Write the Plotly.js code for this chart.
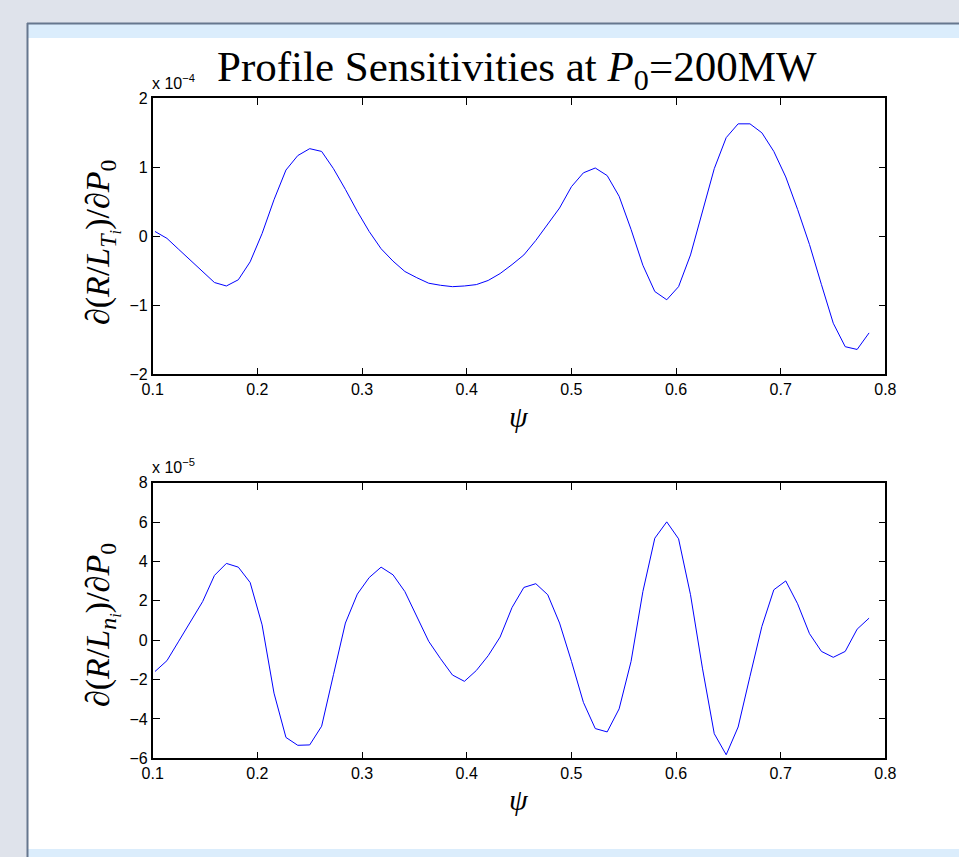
<!DOCTYPE html>
<html>
<head>
<meta charset="utf-8">
<script src="https://cdn.plot.ly/plotly-3.0.1.min.js"></script>
<style>
  html, body { margin: 0; padding: 0; background: #ffffff; }
  #chart { width: 959px; height: 857px; }
</style>
</head>
<body>
<div id="chart"></div>
<script>
// Normalised flux coordinate grid (61 points)
const psi = [
  0.1022, 0.1136, 0.1249, 0.1363, 0.1477, 0.1590, 0.1704, 0.1818, 0.1931, 0.2045,
  0.2159, 0.2273, 0.2386, 0.2500, 0.2614, 0.2727, 0.2841, 0.2955, 0.3068, 0.3182,
  0.3296, 0.3409, 0.3523, 0.3637, 0.3750, 0.3864, 0.3978, 0.4092, 0.4205, 0.4319,
  0.4433, 0.4546, 0.4660, 0.4774, 0.4887, 0.5001, 0.5115, 0.5228, 0.5342, 0.5456,
  0.5570, 0.5683, 0.5797, 0.5911, 0.6024, 0.6138, 0.6252, 0.6365, 0.6479, 0.6593,
  0.6706, 0.6820, 0.6934, 0.7048, 0.7161, 0.7275, 0.7389, 0.7502, 0.7616, 0.7730,
  0.7844
];

// d(R/L_Ti)/dP0, in units of 1e-4
const dTi = [
   0.07, -0.03, -0.19, -0.35, -0.52, -0.67, -0.72, -0.63, -0.37,  0.04,
   0.53,  0.96,  1.17,  1.27,  1.23,  0.98,  0.68,  0.36,  0.07, -0.18,
  -0.36, -0.51, -0.60, -0.68, -0.71, -0.73, -0.72, -0.70, -0.64, -0.54,
  -0.41, -0.27, -0.06,  0.17,  0.41,  0.72,  0.92,  0.99,  0.88,  0.58,
   0.10, -0.42, -0.80, -0.92, -0.73, -0.27,  0.34,  0.98,  1.43,  1.63,
   1.63,  1.50,  1.23,  0.86,  0.39, -0.12, -0.70, -1.26, -1.60, -1.64,
  -1.40
];

// d(R/L_ni)/dP0, in units of 1e-5
const dNi = [
  -1.59, -1.04, -0.05,  0.97,  1.96,  3.29,  3.90,  3.71,  2.93,  0.78,
  -2.69, -4.94, -5.34, -5.32, -4.37, -1.75,  0.87,  2.34,  3.18,  3.71,
   3.32,  2.47,  1.21, -0.06, -0.94, -1.77, -2.09, -1.54, -0.79,  0.16,
   1.66,  2.68,  2.87,  2.31,  0.87, -1.08, -3.16, -4.49, -4.66, -3.49,
  -1.08,  2.47,  5.18,  6.01,  5.15,  2.31, -1.42, -4.75, -5.82, -4.41,
  -1.84,  0.70,  2.56,  3.01,  1.85,  0.33, -0.57, -0.87, -0.57,  0.56,
   1.12
];

const xTicks = [0.1, 0.2, 0.3, 0.4, 0.5, 0.6, 0.7, 0.8];
const yTicksTop = [-2, -1, 0, 1, 2];
const yTicksBot = [-6, -4, -2, 0, 2, 4, 6, 8];

const W = 959, H = 857;
const px = x => x / W;
const py = y => 1 - y / H;

const sans = 'Liberation Sans, Arial, sans-serif';
const serif = 'Liberation Serif, Times New Roman, serif';

function xAxis(anchor) {
  return {
    domain: [px(152.7), px(885.4)],
    range: [0.1, 0.8],
    tickvals: xTicks,
    ticktext: xTicks.map(v => v.toFixed(1)),
    ticks: 'inside', ticklen: 7, tickwidth: 1, tickcolor: '#000',
    showline: true, linecolor: '#000', linewidth: 1.6, mirror: 'ticks',
    showgrid: false, zeroline: false,
    tickfont: {family: sans, size: 16, color: '#000'},
    anchor: anchor, fixedrange: true
  };
}
function yAxis(anchor, dom, rng, vals) {
  return {
    domain: dom,
    range: rng,
    tickvals: vals,
    ticktext: vals.map(v => v < 0 ? '\u2212' + Math.abs(v) : String(v)),
    ticks: 'inside', ticklen: 7, tickwidth: 1, tickcolor: '#000',
    showline: true, linecolor: '#000', linewidth: 1.6, mirror: 'ticks',
    showgrid: false, zeroline: false,
    tickfont: {family: sans, size: 16, color: '#000'},
    anchor: anchor, fixedrange: true
  };
}

const traces = [
  {x: psi, y: dTi, xaxis: 'x', yaxis: 'y', type: 'scatter', mode: 'lines',
   line: {color: '#0000ff', width: 1}, hoverinfo: 'skip'},
  {x: psi, y: dNi, xaxis: 'x2', yaxis: 'y2', type: 'scatter', mode: 'lines',
   line: {color: '#0000ff', width: 1}, hoverinfo: 'skip'}
];

// window frame around the figure
const frameGray = '#dfe3eb', frameLine = '#66778e', band = '#dbedfc';
const shapes = [
  {type: 'rect', xref: 'paper', yref: 'paper', layer: 'below',
   x0: 0, x1: 1, y0: py(23), y1: 1, fillcolor: frameGray, line: {width: 0}},
  {type: 'rect', xref: 'paper', yref: 'paper', layer: 'below',
   x0: 0, x1: px(27), y0: 0, y1: 1, fillcolor: frameGray, line: {width: 0}},
  {type: 'rect', xref: 'paper', yref: 'paper', layer: 'below',
   x0: px(28), x1: 1, y0: py(38), y1: py(24), fillcolor: band, line: {width: 0}},
  {type: 'rect', xref: 'paper', yref: 'paper', layer: 'below',
   x0: px(28), x1: 1, y0: 0, y1: py(849), fillcolor: band, line: {width: 0}},
  {type: 'line', xref: 'paper', yref: 'paper', layer: 'below',
   x0: px(27), x1: 1, y0: py(23.5), y1: py(23.5), line: {color: frameLine, width: 2}},
  {type: 'line', xref: 'paper', yref: 'paper', layer: 'below',
   x0: px(27.5), x1: px(27.5), y0: 0, y1: py(23), line: {color: frameLine, width: 2}}
];

const annotations = [
  {text: 'Profile Sensitivities at <i>P</i><sub>0</sub>=200MW',
   xref: 'paper', yref: 'paper', x: px(517), y: py(70),
   xanchor: 'center', yanchor: 'middle', showarrow: false,
   font: {family: serif, size: 43, color: '#000'}},
  {text: 'x 10<sup>\u22124</sup>', xref: 'paper', yref: 'paper',
   x: px(150), y: py(94), xanchor: 'left', yanchor: 'bottom', showarrow: false,
   font: {family: sans, size: 16, color: '#000'}},
  {text: 'x 10<sup>\u22125</sup>', xref: 'paper', yref: 'paper',
   x: px(150), y: py(478), xanchor: 'left', yanchor: 'bottom', showarrow: false,
   font: {family: sans, size: 16, color: '#000'}},
  {text: '\u2202(<i>R</i>/<i>L</i><sub><i>T</i><sub><i>i</i></sub></sub>)/\u2202<i>P</i><sub>0</sub>',
   xref: 'paper', yref: 'paper', x: px(102), y: py(243), textangle: -90,
   xanchor: 'center', yanchor: 'middle', showarrow: false,
   font: {family: serif, size: 34, color: '#000'}},
  {text: '\u2202(<i>R</i>/<i>L</i><sub><i>n</i><sub><i>i</i></sub></sub>)/\u2202<i>P</i><sub>0</sub>',
   xref: 'paper', yref: 'paper', x: px(102), y: py(625), textangle: -90,
   xanchor: 'center', yanchor: 'middle', showarrow: false,
   font: {family: serif, size: 34, color: '#000'}},
  {text: '<i>\u03c8</i>', xref: 'paper', yref: 'paper', x: px(519), y: py(416),
   xanchor: 'center', yanchor: 'middle', showarrow: false,
   font: {family: serif, size: 30, color: '#000'}},
  {text: '<i>\u03c8</i>', xref: 'paper', yref: 'paper', x: px(519), y: py(799),
   xanchor: 'center', yanchor: 'middle', showarrow: false,
   font: {family: serif, size: 30, color: '#000'}}
];

const layout = {
  width: W, height: H,
  margin: {l: 0, r: 0, t: 0, b: 0},
  paper_bgcolor: '#ffffff', plot_bgcolor: '#ffffff',
  showlegend: false,
  xaxis: xAxis('y'),
  yaxis: yAxis('x', [py(374.3), py(98.3)], [-2, 2], yTicksTop),
  xaxis2: xAxis('y2'),
  yaxis2: yAxis('x2', [py(758.3), py(482.7)], [-6, 8], yTicksBot),
  shapes: shapes,
  annotations: annotations
};

Plotly.newPlot('chart', traces, layout, {displayModeBar: false});
</script>
</body>
</html>
